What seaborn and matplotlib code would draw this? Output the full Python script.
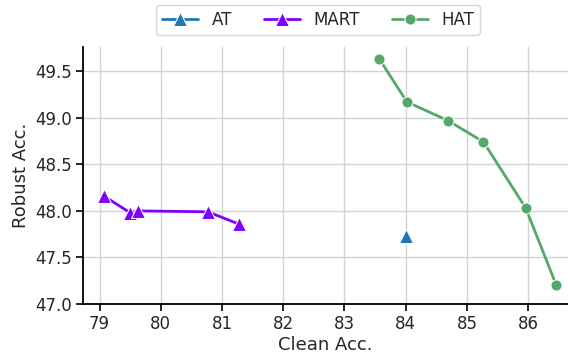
import matplotlib
matplotlib.use("Agg")
import matplotlib.pyplot as plt
import seaborn as sns
import pandas as pd

at_clean = [84.00]
at_robust = [47.73]
mart_clean = [79.07, 79.50, 79.62, 80.77, 81.27]
mart_robust = [48.16, 47.98, 48.00, 47.99, 47.86]
hat_clean = [83.57, 84.02, 84.69, 85.27, 85.96, 86.46]
hat_robust = [49.63, 49.17, 48.97, 48.74, 48.03, 47.20]

sns.set_theme(style="whitegrid")
plt.rcParams['font.family'] = ['DejaVu Sans']

fig = plt.figure(figsize=(5.68, 3.54), dpi=100)
ax = fig.add_axes([83/568, 50/354, 1 - 83/568, (304-47)/354])

sns.lineplot(x=at_clean, y=at_robust, ax=ax, color="#1f77b4", marker="^",
             markersize=10, linewidth=2, label="AT", markeredgecolor="white")
sns.lineplot(x=mart_clean, y=mart_robust, ax=ax, color="#7f00ff", marker="^",
             markersize=10, linewidth=2, label="MART", markeredgecolor="white")
sns.lineplot(x=hat_clean, y=hat_robust, ax=ax, color="#55a868", marker="o",
             markersize=8, linewidth=2, label="HAT", markeredgecolor="white")

ax.set_xlim(78.73, 86.65)
ax.set_ylim(47.0, 49.76)
ax.set_xticks([79, 80, 81, 82, 83, 84, 85, 86])
ax.set_yticks([47.0, 47.5, 48.0, 48.5, 49.0, 49.5])
ax.set_yticklabels(["47.0", "47.5", "48.0", "48.5", "49.0", "49.5"])
ax.set_xlabel("Clean Acc.", fontsize=13, labelpad=2)
ax.set_ylabel("Robust Acc.", fontsize=13, labelpad=4)
ax.tick_params(axis="both", labelsize=12, length=5, width=1.2, color="black",
               bottom=True, left=True, pad=3, labelcolor="#262626")
for s in ["left", "bottom"]:
    ax.spines[s].set_color("black")
    ax.spines[s].set_linewidth(1.3)
sns.despine(ax=ax)
ax.grid(True, color="#d3d3d3", linewidth=1)

ax.get_legend().remove()
handles, labels = ax.get_legend_handles_labels()
fig.legend(handles, labels, loc="upper center", bbox_to_anchor=(318/568, 1 - 5/354),
           borderaxespad=0, ncol=3, fontsize=12, frameon=True, handlelength=2.2,
           columnspacing=1.9, borderpad=0.35, handletextpad=0.8)

fig.savefig("out.png", dpi=100)
